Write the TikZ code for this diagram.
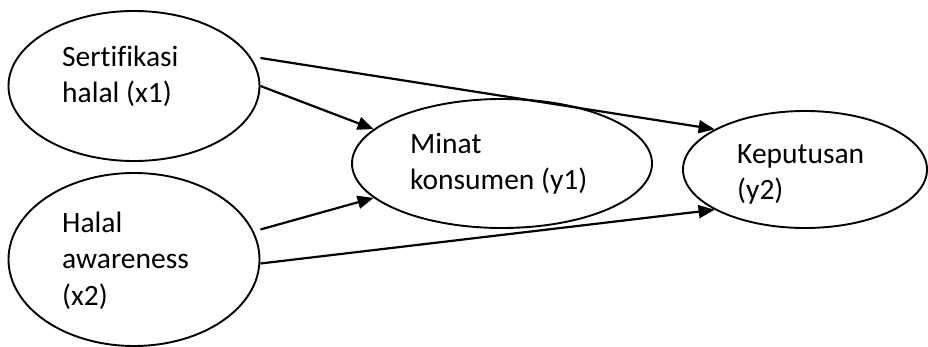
\documentclass[tikz,border=0pt]{standalone}
\usepackage{fontspec}
\setmainfont{Carlito}[Ligatures=NoCommon]
\usetikzlibrary{arrows.meta,shapes.geometric,calc}
\begin{document}
\begin{tikzpicture}[x=1pt,y=-1pt,
  construct/.style={draw=black,line width=1.9pt,ellipse,inner sep=0pt,fill=white},
  lbl/.style={anchor=base west,inner sep=0pt,align=left,
    font=\fontsize{29.5}{36.5}\selectfont},
  path/.style={line width=2.2pt,-{Triangle[length=16pt,width=13pt]}}]
\useasboundingbox (0,0) rectangle (928,347);
% latent constructs
\node[construct,minimum width=251pt,minimum height=150pt] (e1) at (134,86) {};
\node[construct,minimum width=251pt,minimum height=173pt] (e2) at (134,259.5) {};
\node[construct,minimum width=300pt,minimum height=129pt] (e3) at (502,163.5) {};
\node[construct,minimum width=244pt,minimum height=117pt] (e4) at (805,169.5) {};
% construct labels (anchored at the baseline of their last line)
\node[lbl] (t1) at (62,103) {Sertifikasi\\halal (x1)};
\node[lbl] (t2) at (62,305) {Halal\\awareness\\(x2)};
\node[lbl] (t3) at (410,190) {Minat\\konsumen (y1)};
\node[lbl] (t4) at (737,200) {Keputusan\\(y2)};
% hypothesised paths
\draw[path] ($(e1.east)+(0,-28)$) -- (e4.156);
\draw[path] (e1.east) -- (e3.165);
\draw[path] ($(e2.east)+(0,-30)$) -- (e3.195);
\draw[path] ($(e2.east)+(0,4)$) -- (e4.204);
\end{tikzpicture}
\end{document}
